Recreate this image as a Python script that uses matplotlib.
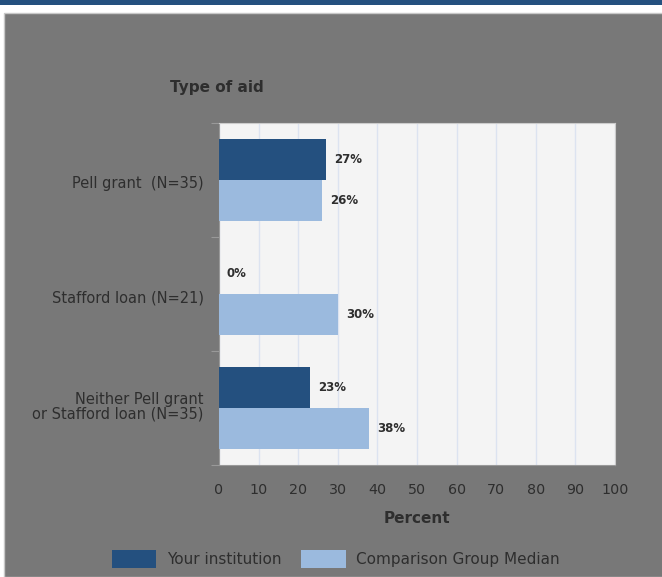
import numpy as np
import matplotlib.pyplot as plt
from matplotlib.patches import Rectangle

categories = ['Pell grant  (N=35)', 'Stafford loan (N=21)', 'Neither Pell grant\nor Stafford loan (N=35)']
your_inst = [27, 0, 23]
comparison = [26, 30, 38]
series_names = ['Your institution', 'Comparison Group Median']

dark = '#24507f'
light = '#9bbade'
bg = '#787878'
txt = '#2e2e2e'

fig = plt.figure(figsize=(6.62, 5.77), dpi=100, facecolor='white')

# page frame: dark band on top, gray panel below
fig.patches.append(Rectangle((0, 1 - 5/577), 1, 5/577, transform=fig.transFigure,
                             facecolor='#24507f', edgecolor='none', zorder=-2))
fig.patches.append(Rectangle((4/662, 0), 1, 1 - 13/577, transform=fig.transFigure,
                             facecolor=bg, edgecolor='#c8c8c8', linewidth=1, zorder=-2))

ax = fig.add_axes([219/662, 1 - 465/577, 396/662, 342/577])
ax.set_facecolor('#f4f4f4')

y = np.arange(len(categories))
h = 0.36
b1 = ax.barh(y - h/2, your_inst, height=h, color=dark, zorder=3)
b2 = ax.barh(y + h/2, comparison, height=h, color=light, zorder=3)

for bars, vals in [(b1, your_inst), (b2, comparison)]:
    for bar, v in zip(bars, vals):
        ax.text(v + 2, bar.get_y() + bar.get_height()/2, f'{v}%', va='center', ha='left',
                fontsize=8.5, fontweight='bold', color=txt, zorder=4)

ax.set_xlim(0, 100)
ax.set_ylim(2.5, -0.5)
ax.set_xticks(np.arange(0, 101, 10))
ax.tick_params(axis='x', length=0, pad=13, labelsize=10.3, labelcolor=txt)
ax.grid(axis='x', color='#dce3f0', linewidth=1, zorder=0)

ax.set_yticks([-0.5, 0.5, 1.5, 2.5], minor=False)
ax.set_yticklabels([])
ax.set_yticks(y + np.array([0.02, 0.02, -0.025]), minor=True)
ax.set_yticklabels(categories, minor=True, linespacing=0.95)
ax.tick_params(axis='y', which='major', length=6, color='#999999')
ax.tick_params(axis='y', which='minor', length=0, pad=11, labelsize=10.5, labelcolor=txt)

for s in ['top', 'right']:
    ax.spines[s].set_color('#cccccc')
ax.spines['left'].set_color('#999999')
ax.spines['bottom'].set_color('#999999')

ax.set_xlabel('Percent', fontsize=11, fontweight='bold', color=txt, labelpad=10)
fig.text(170/662, 1 - 87/577, 'Type of aid', fontsize=11, fontweight='bold', color=txt,
         ha='left', va='center')

fig.legend([b1, b2], series_names, loc='center', bbox_to_anchor=(336/662, 1 - 559/577),
           ncol=2, frameon=False, fontsize=11, labelcolor=txt, handlelength=2.9,
           handleheight=1.5, columnspacing=1.3, handletextpad=0.7)

fig.savefig('out.png', dpi=100, facecolor=fig.get_facecolor())
